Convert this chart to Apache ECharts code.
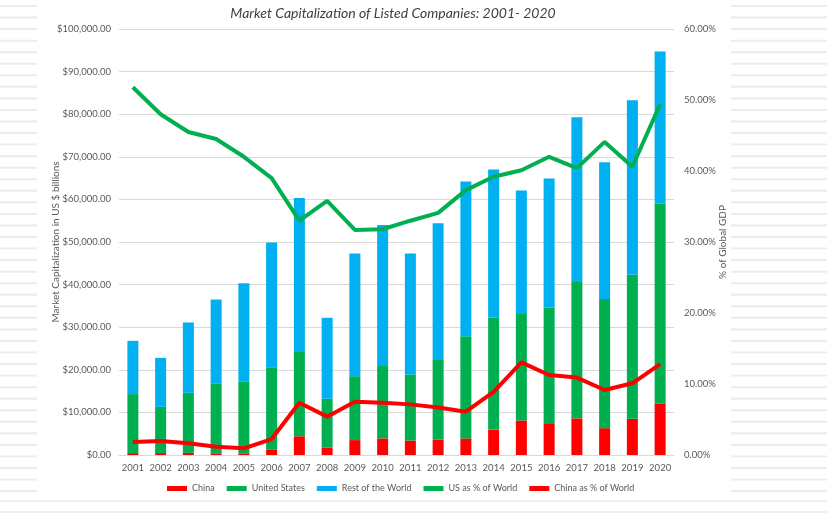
<!DOCTYPE html>
<html><head><meta charset="utf-8">
<script src="https://cdn.jsdelivr.net/npm/echarts@6/dist/echarts.min.js"></script>
<style>html,body{margin:0;padding:0;background:#fff}#c{width:827px;height:518px}</style>
</head><body><div id="c"></div>
<script>
const years = ['2001','2002','2003','2004','2005','2006','2007','2008','2009','2010','2011','2012','2013','2014','2015','2016','2017','2018','2019','2020'];
const china = [450,450,500,400,400,1200,4400,1700,3500,3900,3400,3600,3900,5900,8100,7300,8600,6300,8500,12100];
const us = [13850,10850,14100,16300,16900,19400,19800,11500,15000,17200,15500,18700,24000,26300,25000,27300,32000,30300,33800,46900];
const rest = [12500,11500,16500,19800,23000,29300,36100,19000,28800,32900,28400,32100,36300,34800,29000,30300,38700,32100,41000,35700];
const usPct = [51.8,48.0,45.5,44.5,42.0,39.0,33.0,35.8,31.7,31.8,33.0,34.1,37.3,39.2,40.1,42.0,40.4,44.1,40.6,49.4];
const chinaPct = [1.83,1.97,1.64,1.17,0.94,2.25,7.37,5.4,7.5,7.37,7.13,6.7,6.1,8.9,13.05,11.27,10.9,9.15,10.1,12.8];

const FONT = 'Lato';
const TXT = '#595959';
const stripes = [];
for (let y = 5; y < 495; y += 11.55) {
  stripes.push({type:'rect', shape:{x:0,y:y,width:37,height:2}, style:{fill:'#ececec'}, silent:true});
  stripes.push({type:'rect', shape:{x:731,y:y,width:96,height:2}, style:{fill:'#ececec'}, silent:true});
}
stripes.push({type:'rect', shape:{x:0,y:500,width:827,height:2}, style:{fill:'#efefef'}, silent:true});
stripes.push({type:'rect', shape:{x:0,y:511,width:827,height:2}, style:{fill:'#efefef'}, silent:true});

const chart = echarts.init(document.getElementById('c'));
chart.setOption({
  animation:false,
  backgroundColor:'#fff',
  graphic: stripes,
  title:{text:'Market Capitalization of Listed Companies: 2001- 2020', left:388, top:1, textAlign:'center',
    textStyle:{fontFamily:FONT, fontStyle:'italic', fontWeight:'normal', fontSize:14, color:'#404040'}},
  grid:{left:119, right:153, top:29, bottom:63},
  legend:{bottom:20, left:162, icon:'rect', itemWidth:20, itemHeight:5, itemGap:12,
    textStyle:{fontFamily:FONT, fontSize:9, color:TXT},
    data:['China','United States','Rest of the World','US as % of World','China as % of World']},
  xAxis:{type:'category', data:years,
    axisLine:{lineStyle:{color:'#d9d9d9'}}, axisTick:{show:false},
    axisLabel:{fontFamily:FONT, fontSize:9.5, color:TXT, margin:8, interval:0}},
  yAxis:[
    {type:'value', min:0, max:100000, interval:10000,
     name:'Market Capitalization in US $ billions', nameLocation:'middle', nameGap:58, nameMoveOverlap:false,
     nameTextStyle:{fontFamily:FONT, fontSize:10, color:TXT},
     axisLabel:{fontFamily:FONT, fontSize:9.5, color:TXT, margin:8,
       formatter:v=>'$'+v.toLocaleString('en-US',{minimumFractionDigits:2,maximumFractionDigits:2})},
     splitLine:{lineStyle:{color:'#d9d9d9'}}, axisLine:{show:false}, axisTick:{show:false}},
    {type:'value', min:0, max:60, interval:10,
     name:'% of Global GDP', nameLocation:'middle', nameGap:44, nameRotate:90, nameMoveOverlap:false,
     nameTextStyle:{fontFamily:FONT, fontSize:10, color:TXT},
     axisLabel:{fontFamily:FONT, fontSize:9.5, color:TXT, margin:10, formatter:v=>v.toFixed(2)+'%'},
     splitLine:{show:false}, axisLine:{show:false}, axisTick:{show:false}}
  ],
  series:[
    {name:'China', type:'bar', stack:'cap', data:china, barWidth:11, itemStyle:{color:'#ff0000'}},
    {name:'United States', type:'bar', stack:'cap', data:us, barWidth:11, itemStyle:{color:'#00b050'}},
    {name:'Rest of the World', type:'bar', stack:'cap', data:rest, barWidth:11, itemStyle:{color:'#00b0f0'}},
    {name:'US as % of World', type:'line', yAxisIndex:1, data:usPct, showSymbol:false, symbol:'none', z:5,
     lineStyle:{color:'#00b050', width:4}, itemStyle:{color:'#00b050'}},
    {name:'China as % of World', type:'line', yAxisIndex:1, data:chinaPct, showSymbol:false, symbol:'none', z:5,
     lineStyle:{color:'#ff0000', width:4}, itemStyle:{color:'#ff0000'}}
  ]
});
</script></body></html>
